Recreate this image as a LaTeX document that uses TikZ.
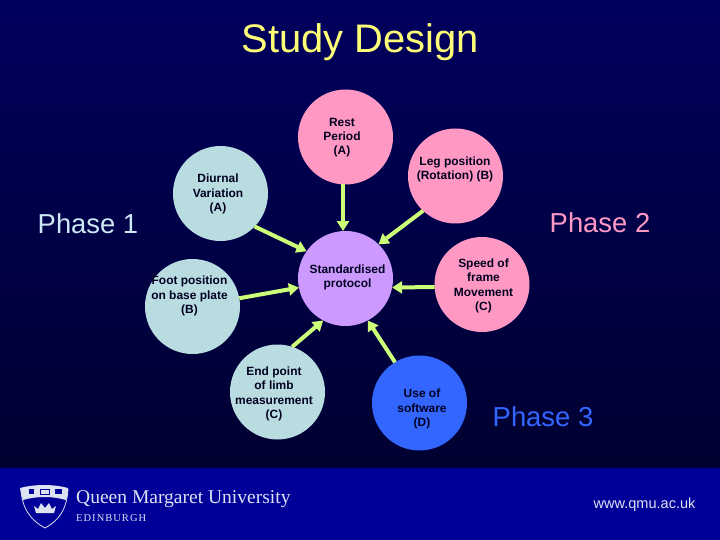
\documentclass[tikz,border=0pt]{standalone}
\usepackage{fontspec}
\setmainfont{Liberation Sans}
\newfontfamily\logofont{Liberation Serif}
\usetikzlibrary{arrows.meta,positioning}
\definecolor{navytop}{HTML}{00005E}
\definecolor{navymid}{HTML}{000058}
\definecolor{navybot}{HTML}{000030}
\definecolor{footblue}{HTML}{000099}
\definecolor{blobpink}{HTML}{FF99C4}
\definecolor{blobteal}{HTML}{B9DCE0}
\definecolor{blobpurple}{HTML}{CC99FF}
\definecolor{blobblue}{HTML}{3366FF}
\definecolor{linklime}{HTML}{CCFF77}
\definecolor{titleyellow}{HTML}{FFFF77}
\definecolor{phaseteal}{HTML}{CCE8F4}
\definecolor{logowhite}{HTML}{DDE2F2}
\definecolor{inkdark}{HTML}{000020}
\tikzset{
  blob/.style={circle,fill=#1,minimum size=95bp,inner sep=0pt,outer sep=0pt},
  blobtext/.style={align=center,inner sep=0pt,text=inkdark,font=\fontsize{12}{14.4}\selectfont\bfseries},
  phasetext/.style={inner sep=0pt,font=\fontsize{27.5}{30}\selectfont},
  link/.style={draw=linklime,line width=4bp,-{Triangle[length=10bp,width=12bp]}},
}
\begin{document}
\begin{tikzpicture}[x=1bp,y=-1bp]
\useasboundingbox (0,0) rectangle (720,540);
\shade[top color=navytop,middle color=navymid,bottom color=navybot] (0,0) rectangle (720,468);
\fill[footblue] (0,468) rectangle (720,540);
\node[inner sep=0pt,text=titleyellow,font=\fontsize{40}{44}\selectfont] (title) at (360,42.5) {Study Design};
% circles
\node[blob=blobpink] (rest) at (345.5,137) {};
\node[blob=blobpink] (leg) at (455.5,176) {};
\node[blob=blobteal] (diurnal) at (220.5,193.5) {};
\node[blob=blobteal] (foot) at (192.5,306.5) {};
\node[blob=blobpurple] (proto) at (345.5,278.5) {};
\node[blob=blobpink] (speed) at (482,284.5) {};
\node[blob=blobteal] (endpt) at (277.5,392) {};
\node[blob=blobblue] (soft) at (419.5,403) {};
% circle texts
\node[blobtext] (resttext) at (342,137.5) {Rest\\Period\\(A)};
\node[blobtext] (legtext) at (455,169.5) {Leg position\\(Rotation) (B)};
\node[blobtext] (diurnaltext) at (218,194) {Diurnal\\Variation\\(A)};
\node[blobtext] (foottext) at (189.5,296) {Foot position\\on base plate\\(B)};
\node[blobtext] (prototext) at (347.5,277.5) {Standardised\\protocol};
\node[blobtext] (speedtext) at (483.5,286) {Speed of\\frame\\Movement\\(C)};
\node[blobtext] (endtext) at (274,394) {End point\\of limb\\measurement\\(C)};
\node[blobtext] (softtext) at (422,409) {Use of\\software\\(D)};
% arrows
\draw[link] (rest.-93) -- (proto.93);
\draw[link] (leg.227) -- (proto.46);
\draw[link] (diurnal.-44) -- (proto.145);
\draw[link] (foot.10) -- (proto.191);
\draw[link] (speed.183) -- (proto.-11);
\draw[link] (endpt.72) -- (proto.242);
\draw[link] (soft.121) -- (proto.-62);
% phases
\node[phasetext,text=phaseteal] (phaseone) at (88,224) {Phase 1};
\node[phasetext,text=blobpink] (phasetwo) at (600,223) {Phase 2};
\node[phasetext,text=blobblue] (phasethree) at (543,417) {Phase 3};
% logo
\draw[logowhite,line width=0.8bp,fill=footblue] (21,489) .. controls (22,510) and (32,521) .. (45,528) .. controls (58,521) and (67,510) .. (68,489) -- cycle;
\fill[logowhite] (20,488) .. controls (35,484) and (53,484) .. (68,488) .. controls (68,493) and (67,497) .. (66,500) .. controls (52,496) and (37,496) .. (23,500) .. controls (22,497) and (21,493) .. (20,488) -- cycle;
\fill[footblue] (40,488.5) rectangle (50,494.5);
\fill[logowhite] (41,489.5) rectangle (49,493.5);
\fill[footblue] (29,489) rectangle (34,494);
\fill[footblue] (55,489) rectangle (62,494);
\fill[logowhite] (34,506) -- (38,509) -- (41,503) -- (45,508) -- (49,503) -- (52,509) -- (56,506) -- (54,513) -- (36,513) -- cycle;
\node[inner sep=0pt,anchor=west,text=logowhite,font=\logofont\fontsize{19.6}{22}\selectfont] (uniname) at (76,499.5) {Queen Margaret University};
\node[inner sep=0pt,anchor=west,text=logowhite,font=\logofont\fontsize{10.5}{12}\selectfont\addfontfeature{LetterSpace=10}] (city) at (76,518.5) {EDINBURGH};
\node[inner sep=0pt,text=logowhite,font=\fontsize{14.6}{16}\selectfont] (weburl) at (644.5,505) {www.qmu.ac.uk};
\end{tikzpicture}
\end{document}
